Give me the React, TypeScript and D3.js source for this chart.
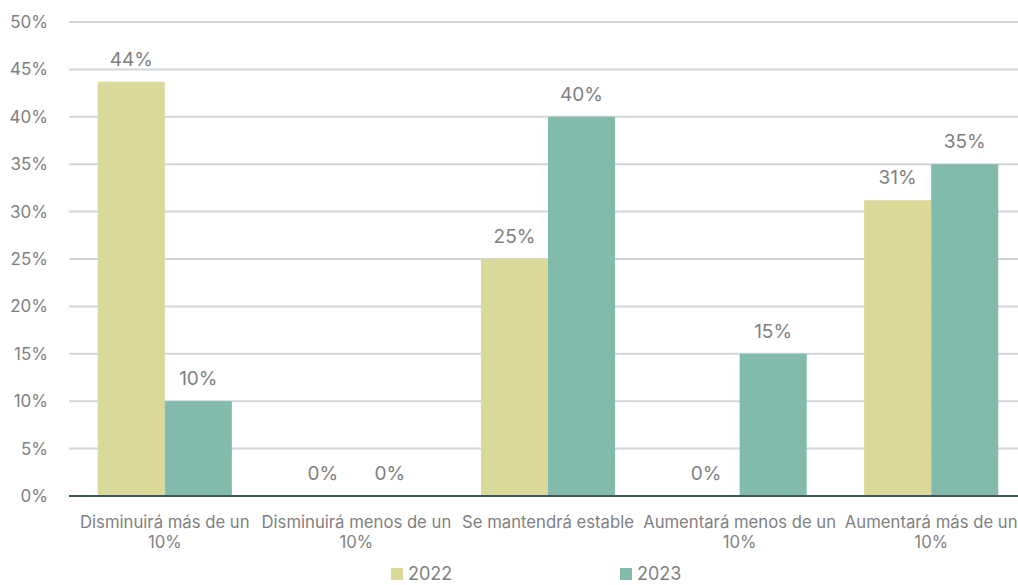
import React from "react";
import * as d3 from "d3";

const categories: string[][] = [
  ["Disminuirá más de un", "10%"],
  ["Disminuirá menos de un", "10%"],
  ["Se mantendrá estable"],
  ["Aumentará menos de un", "10%"],
  ["Aumentará más de un", "10%"],
];
const seriesNames = ["2022", "2023"];
const values2022 = [43.7, 0, 25, 0, 31.2];
const values2023 = [10, 0, 40, 15, 35];
const yTicks = [0, 5, 10, 15, 20, 25, 30, 35, 40, 45, 50];
const colors = ["#dbd99a", "#82bbac"];

const W = 1018;
const H = 585;
const FONT = "Inter, 'Noto Sans', sans-serif";
const TEXT = "#7f7f7f";

export default function App() {
  const left = 69;
  const right = 1027;
  const top = 22;
  const bottom = 496;
  const x = d3.scaleBand<number>().domain(d3.range(categories.length)).range([left, right]);
  const y = d3.scaleLinear().domain([0, 50]).range([bottom, top]);
  const bw = x.bandwidth() * 0.35;
  const series = [values2022, values2023];

  return (
    <svg width={W} height={H} style={{ position: "absolute", left: 0, top: 0 }} fontFamily={FONT}>
      {yTicks.map((t) => (
        <g key={t}>
          {t > 0 && (
            <line x1={left} x2={W} y1={y(t)} y2={y(t)} stroke="#d0d6d9" strokeWidth={2} />
          )}
          <text x={48} y={y(t)} dy="0.35em" textAnchor="end" fontSize={17} fill={TEXT}>
            {t}%
          </text>
        </g>
      ))}
      {categories.map((c, i) => {
        const cx = (x(i) as number) + x.bandwidth() / 2;
        return (
          <g key={i}>
            {series.map((vals, s) => {
              const bx = cx - bw + s * bw;
              const v = vals[i];
              return (
                <g key={s}>
                  <rect x={bx} y={y(v)} width={bw} height={y(0) - y(v)} fill={colors[s]} />
                  <text x={bx + bw / 2} y={y(v) - 16} textAnchor="middle" fontSize={19} fill={TEXT}>
                    {Math.round(v)}%
                  </text>
                </g>
              );
            })}
            {c.map((line, k) => (
              <text key={k} x={cx} y={528 + k * 20} textAnchor="middle" fontSize={16.7} fill={TEXT}>
                {line}
              </text>
            ))}
          </g>
        );
      })}
      <line x1={left} x2={W} y1={bottom} y2={bottom} stroke="#3f5757" strokeWidth={2} />
      {seriesNames.map((n, s) => (
        <g key={n}>
          <rect x={391 + s * 229} y={568} width={12} height={12} fill={colors[s]} />
          <text x={408 + s * 229} y={580} fontSize={18} fill={TEXT}>
            {n}
          </text>
        </g>
      ))}
    </svg>
  );
}
